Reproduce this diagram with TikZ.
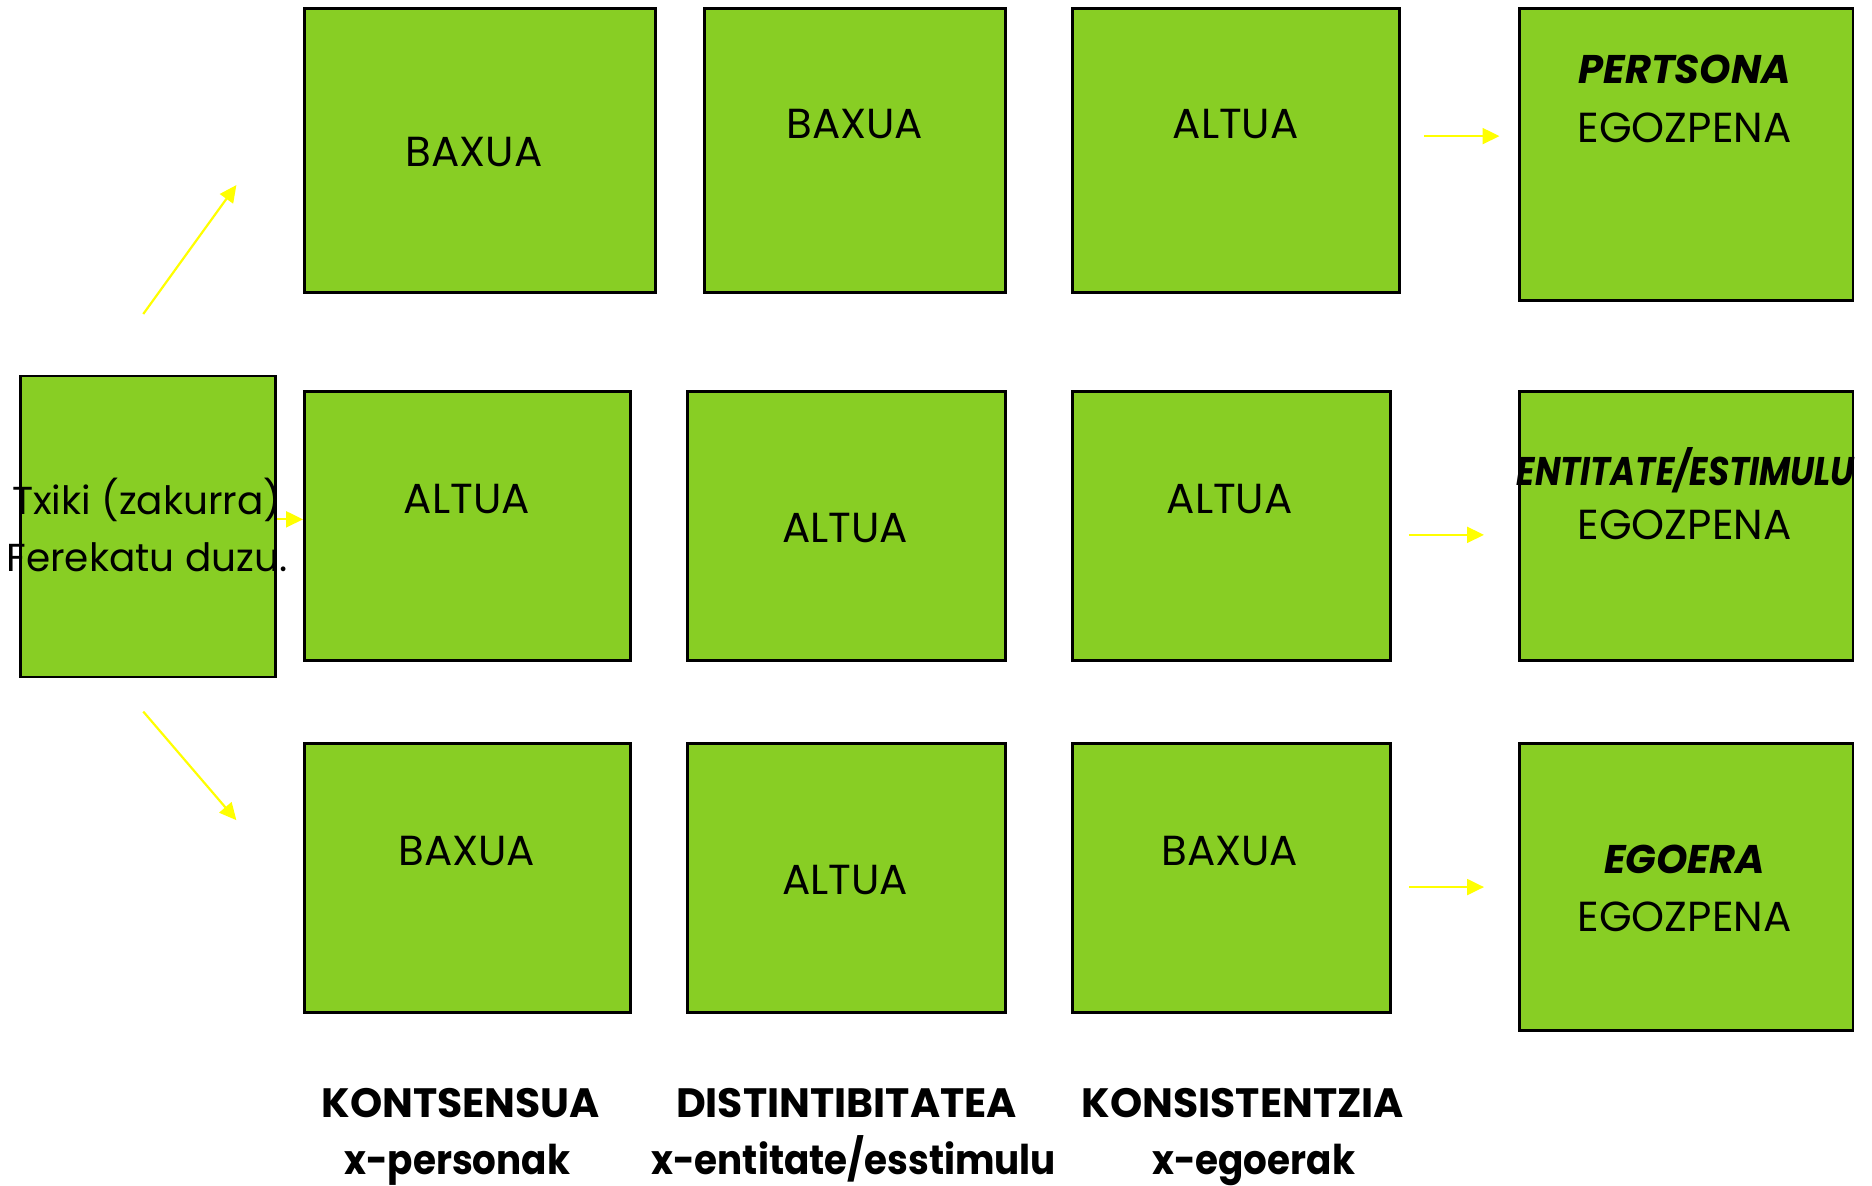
\documentclass[tikz,border=0pt]{standalone}
\usepackage{fontspec}
\setmainfont{Poppins}
\usetikzlibrary{arrows.meta,fit}
\definecolor{boxgreen}{RGB}{136,206,36}
\definecolor{arrowyellow}{RGB}{255,255,0}
\begin{document}
\begin{tikzpicture}[x=1.1939pt,y=-1.1939pt,
  box/.style={draw=black, line width=2.8pt, fill=boxgreen, inner sep=0pt},
  txt/.style={font=\fontsize{42}{57}\selectfont, inner sep=0pt},
  res/.style={font=\fontsize{40}{48}\selectfont\bfseries\itshape, inner sep=0pt},
  lbl/.style={font=\fontsize{41}{48}\selectfont\bfseries, inner sep=0pt, anchor=base},
  arr/.style={draw=arrowyellow, line width=2.2pt, -{Triangle[length=17pt,width=16pt]}}]
\useasboundingbox (0,0) rectangle (1568,993);
% source box
\node[box, fit={(17,315) (231,567)}] (src) {};
% row 1
\node[box, fit={(255,7) (549,245)}] (b11) {};
\node[box, fit={(590,7) (842,245)}] (b12) {};
\node[box, fit={(898,7) (1172,245)}] (b13) {};
\node[box, fit={(1273,7) (1552,252)}] (r1) {};
% row 2
\node[box, fit={(255,328) (528,553)}] (b21) {};
\node[box, fit={(576,328) (842,553)}] (b22) {};
\node[box, fit={(898,328) (1165,553)}] (b23) {};
\node[box, fit={(1273,328) (1552,553)}] (r2) {};
% row 3
\node[box, fit={(255,623) (528,848)}] (b31) {};
\node[box, fit={(576,623) (842,848)}] (b32) {};
\node[box, fit={(898,623) (1165,848)}] (b33) {};
\node[box, fit={(1273,623) (1552,863)}] (r3) {};
% texts
\node[txt, font=\fontsize{39}{57}\selectfont, align=center] (srct) at (123,440) {Txiki (zakurra)\\Ferekatu duzu.};
\node[txt] (t11) at (397,127) {BAXUA};
\node[txt] (t12) at (716,104) {BAXUA};
\node[txt] (t13) at (1035,104) {ALTUA};
\node[txt] (t21) at (391,418) {ALTUA};
\node[txt] (t22) at (708,442) {ALTUA};
\node[txt] (t23) at (1030,418) {ALTUA};
\node[txt] (t31) at (391,713) {BAXUA};
\node[txt] (t32) at (708,737) {ALTUA};
\node[txt] (t33) at (1030,713) {BAXUA};
\node[res] (r1a) at (1411,58) {PERTSONA};
\node[txt] (r1b) at (1411,107) {EGOZPENA};
\node[res] (r2a) at (1412,394) {\scalebox{0.85}[1]{ENTITATE/ESTIMULU}};
\node[txt] (r2b) at (1411,440) {EGOZPENA};
\node[res] (r3a) at (1411,720) {EGOERA};
\node[txt] (r3b) at (1411,768) {EGOZPENA};
% bottom labels
\node[lbl] (l1a) at (386,936) {KONTSENSUA};
\node[lbl] (l1b) at (383,984) {\scalebox{0.91}[1]{x-personak}};
\node[lbl] (l2a) at (709,936) {DISTINTIBITATEA};
\node[lbl] (l2b) at (715,984) {\scalebox{0.91}[1]{x-entitate/esstimulu}};
\node[lbl] (l3a) at (1041,936) {KONSISTENTZIA};
\node[lbl] (l3b) at (1050,984) {\scalebox{0.91}[1]{x-egoerak}};
% arrows
\coordinate (u1) at (120,263);
\coordinate (u2) at (198,155);
\coordinate (d1) at (120,596);
\coordinate (d2) at (198,687);
\coordinate (m) at (0,435);
\draw[arr] (u1) -- (u2);
\draw[arr] (d1) -- (d2);
\draw[arr] (src.east |- m) -- (b21.west |- m);
\coordinate (a1s) at (1193,114); \coordinate (a1e) at (1256,114);
\coordinate (a2s) at (1180,448); \coordinate (a2e) at (1243,448);
\coordinate (a3s) at (1180,743); \coordinate (a3e) at (1243,743);
\draw[arr] (a1s) -- (a1e);
\draw[arr] (a2s) -- (a2e);
\draw[arr] (a3s) -- (a3e);
\end{tikzpicture}
\end{document}
